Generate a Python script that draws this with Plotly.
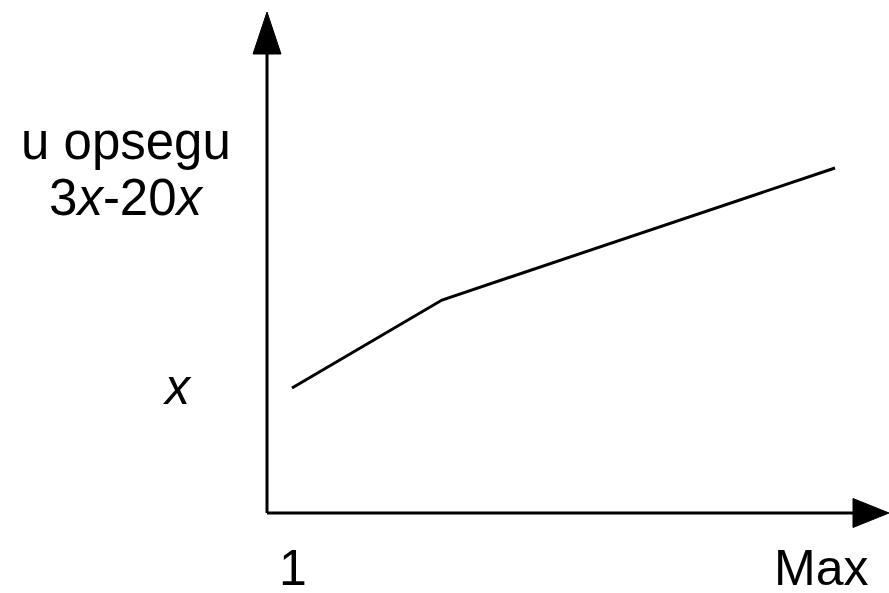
import plotly.graph_objects as go

# Data (abstract units)
line_x = [1.0, 4.0, 11.86]
line_y = [2.5, 4.26, 6.9]

x_tick_vals = [1.02, 11.58]
x_tick_text = ["1", "Max"]
y_label_vals = [2.52, 7.44, 6.32]
y_label_text = ["<i>x</i>", "u opsegu", "3<i>x</i>-20<i>x</i>"]
y_label_xpos = [-1.3, -2.32, -2.32]

X0, Y0 = 0.5, 0.0            # axis origin
X_END, Y_END = 12.94, 10.02  # arrow tips
X_RANGE = [-4.84, 12.94]
Y_RANGE = [-1.6, 10.26]

FONT = "Liberation Sans, Arial, sans-serif"

fig = go.Figure()
fig.add_trace(go.Scatter(x=line_x, y=line_y, mode="lines",
                         line=dict(color="black", width=3), hoverinfo="skip"))

shapes = [
    dict(type="line", x0=X0, y0=Y0, x1=X0, y1=Y_END - 0.84, line=dict(color="black", width=3)),
    dict(type="line", x0=X0, y0=Y0, x1=X_END - 0.72, y1=Y0, line=dict(color="black", width=3)),
    dict(type="path",
         path=f"M {X0-0.28},{Y_END-0.84} L {X0},{Y_END} L {X0+0.28},{Y_END-0.84} Z",
         fillcolor="black", line=dict(color="black", width=1)),
    dict(type="path",
         path=f"M {X_END-0.72},{Y0-0.29} L {X_END},{Y0} L {X_END-0.72},{Y0+0.29} Z",
         fillcolor="black", line=dict(color="black", width=1)),
]

annotations = []
for v, t in zip(x_tick_vals, x_tick_text):
    annotations.append(dict(x=v, y=-1.1, xref="x", yref="y", text=t, showarrow=False,
                            font=dict(family=FONT, size=50, color="black"),
                            xanchor="center", yanchor="middle"))
for xp, v, t in zip(y_label_xpos, y_label_vals, y_label_text):
    annotations.append(dict(x=xp, y=v, xref="x", yref="y", text=t,
                            showarrow=False, align="center",
                            font=dict(family=FONT, size=51 if xp < -2 else 50, color="black"),
                            xanchor="center", yanchor="middle"))

fig.update_layout(
    width=889, height=593,
    margin=dict(l=0, r=0, t=0, b=0),
    paper_bgcolor="white", plot_bgcolor="white",
    showlegend=False,
    xaxis=dict(range=X_RANGE, visible=False, fixedrange=True),
    yaxis=dict(range=Y_RANGE, visible=False, fixedrange=True),
    shapes=shapes, annotations=annotations,
)

fig.write_html("out.html", config={"displayModeBar": False},
               post_script="document.body.style.margin='0';document.body.style.overflow='hidden';")
